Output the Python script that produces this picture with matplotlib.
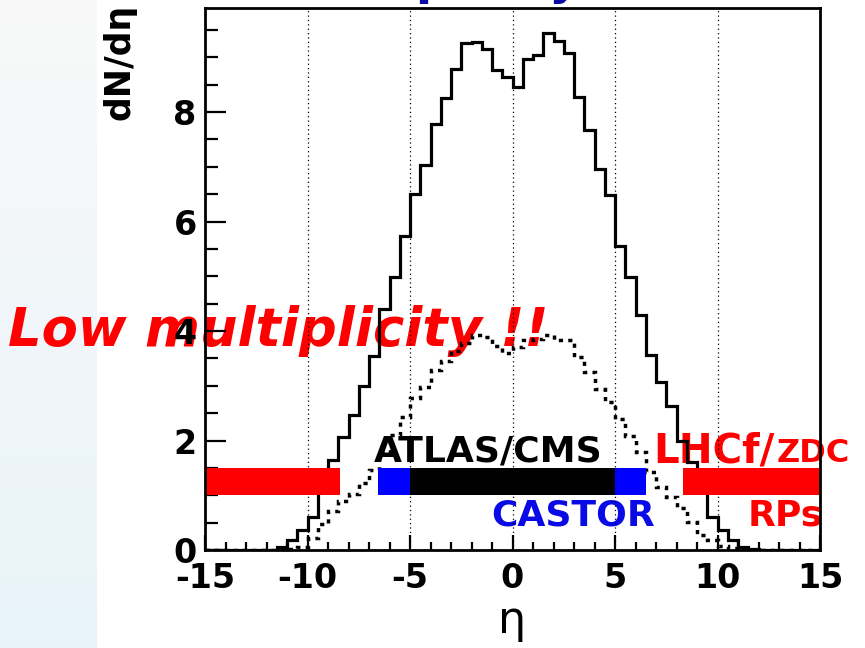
import numpy as np
import matplotlib
matplotlib.use("Agg")
from matplotlib import pyplot as plt

# pseudorapidity bins, 0.5 wide from -15 to 15
eta_edges = np.arange(-15, 15.01, 0.5)

# charged particle density, all events (solid)
dndeta_all = [0, 0, 0, 0, 0, 0, 0,
              0.06, 0.18, 0.36, 0.61, 1.25, 1.64, 2.06, 2.47, 2.99, 3.55,
              4.40, 4.99, 5.74, 6.50, 7.03, 7.79, 8.25, 8.79, 9.26, 9.28,
              9.16, 8.76, 8.64, 8.46, 8.96, 9.05, 9.45, 9.30, 9.08, 8.27,
              7.68, 6.96, 6.48, 5.56, 4.99, 4.30, 3.56, 3.07, 2.63, 2.00,
              1.60, 1.20, 0.61, 0.36, 0.18, 0.06, 0.02,
              0, 0, 0, 0, 0, 0]

# low multiplicity sample (dotted)
dndeta_low = [0, 0, 0, 0, 0, 0, 0, 0,
              0.02, 0.06, 0.22, 0.48, 0.72, 0.90, 1.02, 1.22, 1.47, 1.78,
              2.10, 2.43, 2.77, 2.97, 3.28, 3.46, 3.64, 3.79, 3.92, 3.89,
              3.73, 3.59, 3.70, 3.83, 3.86, 3.93, 3.84, 3.83, 3.52, 3.25,
              2.94, 2.70, 2.40, 2.09, 1.79, 1.43, 1.15, 0.97, 0.76, 0.52,
              0.27, 0.18, 0.08, 0.03,
              0, 0, 0, 0, 0, 0, 0, 0]

# detector coverage in eta
det_lo = [-15, -6.55, -5, 5, 8.3]
det_hi = [-8.4, -5, 5, 6.5, 15]
det_colors = ["#ff0000", "#0000ff", "black", "#0000ff", "#ff0000"]

x_ticks = [-15, -10, -5, 0, 5, 10, 15]
y_ticks = [0, 2, 4, 6, 8]

plt.rcParams['font.family'] = ['DejaVu Sans']
plt.rcParams['axes.unicode_minus'] = False

fig = plt.figure(figsize=(8.65, 6.48), dpi=100)
fig.patch.set_facecolor("white")

# light blue slide strip on the left
bg = fig.add_axes([0, 0, 97 / 865, 1])
grad = np.linspace(0, 1, 256)[:, None]
top = np.array([0.975, 0.975, 0.975])
bot = np.array([0.91, 0.955, 0.98])
img = top[None, None, :] * (1 - grad[..., None]) + bot[None, None, :] * grad[..., None]
bg.imshow(img, aspect="auto", extent=[0, 1, 0, 1])
bg.set_axis_off()

ax = fig.add_axes([205 / 865, 1 - 550 / 648, 615 / 865, 542 / 648])
ax.set_xlim(-15, 15)
ax.set_ylim(0, 9.9)

for g in [-10, -5, 0, 5, 10]:
    ax.axvline(g, color="black", lw=0.9, ls=(0, (1, 2.5)), zorder=1.6)

ax.stairs(dndeta_all, eta_edges, color="black", lw=2.3, baseline=0, zorder=2)
ax.stairs(dndeta_low, eta_edges, color="black", lw=2.5, baseline=0,
          ls=(0, (1.2, 1.5)), zorder=2)

for lo, hi, c in zip(det_lo, det_hi, det_colors):
    ax.barh(1.25, hi - lo, left=lo, height=0.5, color=c, zorder=2.2)

for s in ax.spines.values():
    s.set_linewidth(2.0)
    s.set_zorder(3)

ax.set_xticks(x_ticks)
ax.set_xticks(np.arange(-15, 16, 1), minor=True)
ax.set_yticks(y_ticks)
ax.set_yticks(np.arange(0, 9.9, 0.5), minor=True)
ax.tick_params(axis="both", which="both", direction="in", top=False, right=False,
               width=1.6, labelsize=24)
ax.tick_params(axis="x", which="major", length=11, pad=9)
ax.tick_params(axis="x", which="minor", length=6)
ax.tick_params(axis="y", which="major", length=15, pad=6)
ax.tick_params(axis="y", which="minor", length=9)
for lab in ax.get_xticklabels() + ax.get_yticklabels():
    lab.set_fontweight("bold")

# labels written on top of the detector bars
txt = dict(fontweight="bold", clip_on=False, zorder=1.2, va="baseline")
ax.text(-24.6, 3.72, "Low multiplicity !!", color="#ff0000", fontsize=38,
        style="italic", ha="left", **txt)
ax.text(-1.2, 1.62, "ATLAS/CMS", color="black", fontsize=26, ha="center", **txt)
ax.text(2.95, 0.45, "CASTOR", color="#0a0ae6", fontsize=26, ha="center", **txt)
ax.text(6.85, 1.6, "LHCf/", color="#ff0000", fontsize=29, ha="left", **txt)
ax.text(12.9, 1.6, "ZDC", color="#ff0000", fontsize=23, ha="left", **txt)
ax.text(13.3, 0.45, "RPs", color="#ff0000", fontsize=26, ha="center", **txt)

fig.text(120 / 865, 1 - 4 / 648, "dN/d\u03b7", rotation=90, ha="center", va="top",
         fontsize=25, fontweight="bold")
fig.text(512 / 865, 1 - 621 / 648, "\u03b7", ha="center", va="center", fontsize=32)

# slide title, sitting just above the visible area
fig.text(281 / 865, 1 + 6 / 648, "Multiplicity", ha="left", va="baseline",
         fontsize=34, fontweight="bold", color="#0a0aa5")

fig.savefig("out.png", dpi=100)
